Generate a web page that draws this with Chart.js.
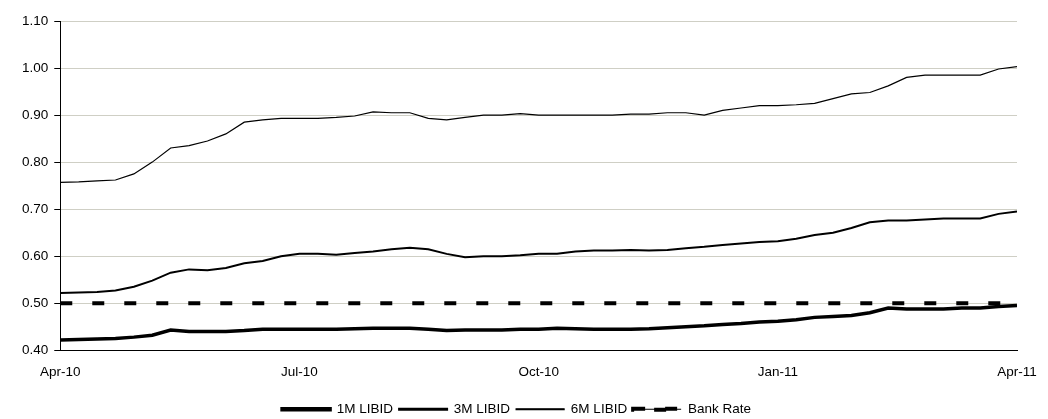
<!DOCTYPE html>
<html>
<head>
<meta charset="utf-8">
<script src="https://cdn.jsdelivr.net/npm/chart.js@4/dist/chart.umd.min.js"></script>
<style>
  html, body { margin: 0; padding: 0; background: #fff; }
  #wrap { width: 1048px; height: 419px; }
</style>
</head>
<body>
<div id="wrap"><canvas id="libidChart"></canvas></div>
<script>
// weekly observations, week 0 = Apr-10, week 52 = Apr-11
const quarterLabels = ['Apr-10', 'Jul-10', 'Oct-10', 'Jan-11', 'Apr-11'];
const yTicks = [0.40, 0.50, 0.60, 0.70, 0.80, 0.90, 1.00, 1.10];

const libid1m = [
  0.422, 0.423, 0.424, 0.425, 0.428, 0.432, 0.443, 0.440, 0.440, 0.440,
  0.442, 0.445, 0.445, 0.445, 0.445, 0.445, 0.446, 0.447, 0.447, 0.447,
  0.445, 0.442, 0.443, 0.443, 0.443, 0.445, 0.445, 0.447, 0.446, 0.445,
  0.445, 0.445, 0.446, 0.448, 0.450, 0.452, 0.455, 0.457, 0.460, 0.462,
  0.465, 0.470, 0.472, 0.474, 0.480, 0.490, 0.488, 0.488, 0.488, 0.490,
  0.490, 0.493, 0.495,
];
const libid3m = [
  0.522, 0.523, 0.524, 0.527, 0.535, 0.548, 0.565, 0.572, 0.570, 0.575,
  0.585, 0.590, 0.600, 0.605, 0.605, 0.603, 0.607, 0.610, 0.615, 0.618,
  0.615, 0.605, 0.598, 0.600, 0.600, 0.602, 0.605, 0.605, 0.610, 0.612,
  0.612, 0.613, 0.612, 0.613, 0.617, 0.620, 0.624, 0.627, 0.630, 0.632,
  0.637, 0.645, 0.650, 0.660, 0.672, 0.676, 0.676, 0.678, 0.680, 0.680,
  0.680, 0.690, 0.695,
];
const libid6m = [
  0.757, 0.758, 0.760, 0.762, 0.775, 0.800, 0.830, 0.835, 0.845, 0.860,
  0.885, 0.890, 0.893, 0.893, 0.893, 0.895, 0.898, 0.907, 0.905, 0.905,
  0.893, 0.890, 0.895, 0.900, 0.900, 0.903, 0.900, 0.900, 0.900, 0.900,
  0.900, 0.902, 0.902, 0.905, 0.905, 0.900, 0.910, 0.915, 0.920, 0.920,
  0.922, 0.925, 0.935, 0.945, 0.948, 0.962, 0.980, 0.985, 0.985, 0.985,
  0.985, 0.998, 1.003,
];
const bankRate = new Array(53).fill(0.50);

const toPoints = (arr) => arr.map((v, i) => ({ x: i, y: v }));

const series = [
  { label: '1M LIBID', data: libid1m, width: 3.5, dash: [] },
  { label: '3M LIBID', data: libid3m, width: 2, dash: [] },
  { label: '6M LIBID', data: libid6m, width: 1.2, dash: [] },
  { label: 'Bank Rate', data: bankRate, width: 4, dash: [12, 20] },
];

const font = { family: "'Liberation Sans', Arial, sans-serif", size: 13.5 };

new Chart(document.getElementById('libidChart'), {
  type: 'line',
  data: {
    datasets: series.map((s) => ({
      label: s.label,
      data: toPoints(s.data),
      borderColor: '#000',
      backgroundColor: '#000',
      borderWidth: s.width,
      borderDash: s.dash,
      pointRadius: 0,
      tension: 0,
    })),
  },
  options: {
    responsive: true,
    maintainAspectRatio: false,
    animation: false,
    layout: { padding: { left: 16, right: 31, top: 21, bottom: -7 } },
    plugins: {
      tooltip: { enabled: false },
      legend: {
        position: 'bottom',
        labels: {
          color: '#000',
          font,
          boxWidth: 48,
          boxHeight: 1,
          padding: 6,
          generateLabels: (chart) => chart.data.datasets.map((d, i) => ({
            text: d.label,
            fillStyle: '#000',
            strokeStyle: '#000',
            lineWidth: d.borderWidth,
            lineDash: d.borderDash,
            datasetIndex: i,
          })),
        },
      },
    },
    scales: {
      x: {
        type: 'linear',
        min: 0,
        max: 52,
        afterFit: (axis) => { axis.height += 8; },
        ticks: {
          stepSize: 13,
          color: '#000',
          font,
          padding: 8,
          maxRotation: 0,
          callback: (v) => quarterLabels[v / 13] ?? '',
        },
        grid: { display: false, drawTicks: true, tickLength: 6, color: '#000' },
        border: { color: '#000', width: 1 },
      },
      y: {
        min: 0.40,
        max: 1.10,
        afterBuildTicks: (axis) => { axis.ticks = yTicks.map((v) => ({ value: v })); },
        ticks: {
          color: '#000',
          font,
          padding: 6,
          callback: (v) => v.toFixed(2),
        },
        grid: { color: '#cfcfc5', lineWidth: 1, tickColor: '#000', tickLength: 6 },
        border: { color: '#000', width: 1 },
      },
    },
  },
});
</script>
</body>
</html>
